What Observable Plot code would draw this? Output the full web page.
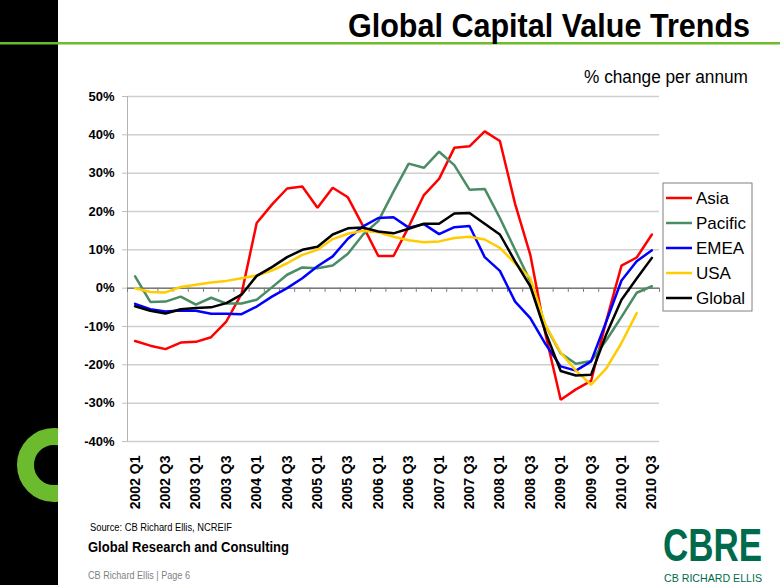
<!DOCTYPE html>
<html><head><meta charset="utf-8">
<script src="https://cdn.jsdelivr.net/npm/d3@7"></script>
<script src="https://cdn.jsdelivr.net/npm/@observablehq/plot@0.6"></script>
<style>
body{margin:0;background:#fff;}
#wrap{position:relative;width:780px;height:585px;overflow:hidden;font-family:"Liberation Sans",Arial,sans-serif;background:#fff;}
#chart{position:absolute;left:0;top:0;}
#deco{position:absolute;left:0;top:0;pointer-events:none;}
</style></head>
<body><div id="wrap"><div id="chart"></div><svg id="deco" width="780" height="585"></svg></div>
<script>
const quarters = ["2002 Q1","2002 Q2","2002 Q3","2002 Q4","2003 Q1","2003 Q2","2003 Q3","2003 Q4",
  "2004 Q1","2004 Q2","2004 Q3","2004 Q4","2005 Q1","2005 Q2","2005 Q3","2005 Q4",
  "2006 Q1","2006 Q2","2006 Q3","2006 Q4","2007 Q1","2007 Q2","2007 Q3","2007 Q4",
  "2008 Q1","2008 Q2","2008 Q3","2008 Q4","2009 Q1","2009 Q2","2009 Q3","2009 Q4",
  "2010 Q1","2010 Q2","2010 Q3"];
const seriesNames = ["Asia","Pacific","EMEA","USA","Global"];
const seriesColors = ["#ff0000","#4a8c64","#0000ff","#ffcc00","#000000"];
const asia = [-13.8,-15.0,-15.9,-14.2,-14.0,-12.8,-8.7,-1.5,17.0,21.8,26.0,26.5,21.0,26.2,23.7,16.2,8.4,8.4,16.0,24.3,28.5,36.6,37.0,40.9,38.4,22.0,8.7,-12.0,-29.1,-26.4,-24.2,-8.5,5.9,8.0,14.0];
const pacific = [3.1,-3.6,-3.5,-2.2,-4.3,-2.5,-4.0,-4.0,-3.0,0.2,3.5,5.4,5.2,5.9,9.0,14.0,17.5,25.2,32.5,31.4,35.6,32.1,25.7,25.9,18.3,10.0,1.8,-9.8,-17.0,-19.7,-19.0,-13.6,-7.5,-1.2,0.5];
const emea = [-4.1,-5.5,-6.1,-5.8,-5.9,-6.7,-6.7,-6.8,-4.8,-2.2,0.0,2.6,5.7,8.3,12.9,16.1,18.3,18.5,15.8,16.7,14.1,15.9,16.2,8.1,4.5,-3.5,-7.8,-14.6,-20.4,-21.5,-19.1,-8.7,2.0,7.0,9.9];
const usa = [0.0,-1.0,-1.1,0.3,0.9,1.5,1.9,2.6,3.3,4.6,6.5,8.7,10.0,12.8,14.2,15.0,14.6,13.4,12.5,12.0,12.2,13.1,13.4,12.7,10.5,6.5,2.6,-9.6,-16.8,-21.5,-25.2,-20.9,-14.3,-6.5,null];
const globalIdx = [-4.7,-5.9,-6.6,-5.5,-5.2,-5.0,-3.9,-1.7,3.2,5.5,8.1,10.0,10.8,14.0,15.6,15.8,14.8,14.3,15.5,16.8,16.8,19.5,19.6,16.8,14.0,7.0,0.5,-11.5,-21.6,-22.8,-22.6,-12.0,-3.0,2.5,7.9];
const yTicks = [-40,-30,-20,-10,0,10,20,30,40,50];

const seriesValues = [asia, pacific, emea, usa, globalIdx];
const rows = [];
seriesValues.forEach((vals, k) => vals.forEach((v, i) => {
  if (v != null) rows.push({q: i, value: v, series: seriesNames[k]});
}));
const labelIdx = d3.range(0, quarters.length, 2);
const boundaries = d3.range(quarters.length + 1).map(i => i - 0.5);
const font = "'Liberation Sans', Arial, sans-serif";

const chart = Plot.plot({
  width: 780, height: 585,
  marginLeft: 127, marginRight: 121, marginTop: 96, marginBottom: 144,
  style: {fontFamily: font, background: "white", color: "#000"},
  x: {domain: [-0.5, quarters.length - 0.5]},
  y: {domain: [-40, 50]},
  color: {domain: seriesNames, range: seriesColors},
  marks: [
    Plot.gridY(yTicks, {stroke: "#cfcfcf", strokeOpacity: 1, strokeWidth: 1.5}),
    Plot.ruleX([-0.5], {stroke: "#b4b4b4", strokeWidth: 1}),
    Plot.ruleY([0], {stroke: "#7a7a7a", strokeWidth: 1.5}),
    Plot.ruleX(boundaries, {x: d => d, y1: 0, y2: -1.1, stroke: "#7a7a7a", strokeWidth: 1}),
    Plot.line(rows, {x: "q", y: "value", z: "series", stroke: "series", strokeWidth: 2.5, strokeLinejoin: "miter"}),
    Plot.axisY(yTicks, {tickFormat: d => d + "%", tickSize: 5, tickPadding: 8, fontWeight: "bold", fontSize: 13, stroke: "#c0c0c0", label: null}),
    Plot.axisX(labelIdx, {tickFormat: i => quarters[i], tickRotate: -90, tickSize: 0, tickPadding: 14, fontWeight: "bold", fontSize: 14, label: null})
  ]
});
document.getElementById("chart").appendChild(chart);

// decorations
const deco = d3.select("#deco");
deco.append("rect").attr("x", 0).attr("y", 0).attr("width", 58).attr("height", 585).attr("fill", "#000");
deco.append("rect").attr("x", 0).attr("y", 42).attr("width", 780).attr("height", 2.5).attr("fill", "#6fb92c");
deco.append("clipPath").attr("id", "cbar").append("rect").attr("x", 0).attr("y", 0).attr("width", 58).attr("height", 585);
deco.append("circle").attr("cx", 54).attr("cy", 465).attr("r", 28.5).attr("fill", "none")
  .attr("stroke", "#6cbb2e").attr("stroke-width", 17).attr("clip-path", "url(#cbar)");

function txt(s, x, y, opts) {
  const t = deco.append("text").attr("x", 0).attr("y", 0).text(s)
    .attr("transform", `translate(${x},${y}) scale(1,${opts.sy || 1})`)
    .attr("font-family", font).attr("font-size", opts.size).attr("fill", opts.fill || "#000");
  if (opts.weight) t.attr("font-weight", opts.weight);
  if (opts.anchor) t.attr("text-anchor", opts.anchor);
  if (opts.len) t.attr("textLength", opts.len).attr("lengthAdjust", "spacingAndGlyphs");
  return t;
}
txt("Global Capital Value Trends", 348, 37, {size: 30, sy: 1.13, weight: "bold", len: 402});
txt("% change per annum", 584, 83, {size: 17.5, len: 164});

// legend
const lg = deco.append("g");
lg.append("rect").attr("x", 663).attr("y", 183).attr("width", 89).attr("height", 128)
  .attr("fill", "#fff").attr("stroke", "#808080").attr("stroke-width", 1);
seriesNames.forEach((name, k) => {
  const y = 198 + k * 25;
  lg.append("line").attr("x1", 666).attr("x2", 692).attr("y1", y).attr("y2", y)
    .attr("stroke", seriesColors[k]).attr("stroke-width", 2.5);
  lg.append("text").attr("x", 696).attr("y", y + 6).text(name)
    .attr("font-family", font).attr("font-size", 17);
});

// footer
txt("Source: CB Richard Ellis, NCREIF", 90, 531, {size: 10, len: 142});
txt("Global Research and Consulting", 88, 552, {size: 15, weight: "bold", len: 201});
txt("CB Richard Ellis  |  Page 6", 88, 579, {size: 10, fill: "#7f7f7f", len: 102});
txt("CBRE", 663, 561, {size: 36, sy: 1.26, weight: "bold", fill: "#006a4d", len: 99});
txt("CB RICHARD ELLIS", 664, 582, {size: 10, sy: 1.1, fill: "#006a4d", len: 98});
</script>
</body></html>
